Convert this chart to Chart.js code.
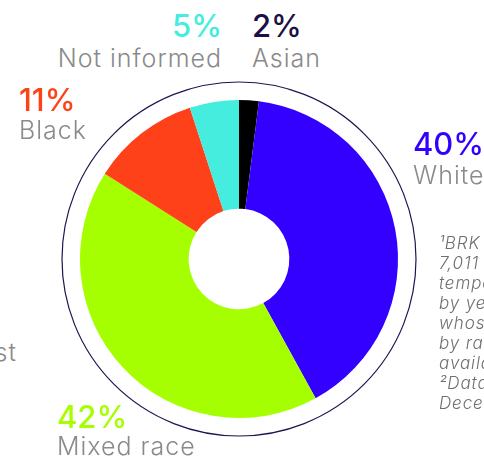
<!DOCTYPE html>
<html lang="en">
<head>
<meta charset="UTF-8">
<title>Race breakdown</title>
<script src="https://cdn.jsdelivr.net/npm/chart.js@4"></script>
<style>
    html, body { margin: 0; padding: 0; background: #fff; }
    body { width: 484px; height: 460px; overflow: hidden; position: relative; font-family: Inter, "Open Sans", sans-serif; }
    #wrap { position: absolute; left: 59px; top: 79px; width: 360px; height: 360px; }
    .pct, .name, .note { position: absolute; white-space: nowrap; line-height: 1; }
    .pct { font-size: 31px; font-weight: 500; letter-spacing: 0px; }
    .name { font-size: 25px; font-weight: 300; color: #8a8a8a; letter-spacing: 1px; }
    .right { text-align: right; }
    .note { left: 439px; font-size: 17px; font-style: italic; font-weight: 300; color: #6f6f6f; letter-spacing: 0.9px; }
</style>
</head>
<body>
<div id="wrap"><canvas id="grafico"></canvas></div>
<div id="labels"></div>

<script>
    // fatias em ordem horária a partir do topo
    const categorias = ['Asian', 'White', 'Mixed race', 'Black', 'Not informed'];
    const percentuais = [2, 40, 42, 11, 5];
    const cores = ['#000000', '#3300ff', '#a6ff00', '#ff4119', '#45eddf'];
    const coresTexto = ['#1c1048', '#3300ff', '#a6ff00', '#ff4119', '#45eddf'];

    const notas = ['\u00b9BRK Ambiental had', '7,011 employees and', 'temporary workers', 'by year-end 2022,', 'whose profile', 'by race is', 'available below.', '\u00b2Data as of', 'December 2022.'];

    // posição de cada rótulo: [x, linha de base do %, linha de base do nome, alinhado à direita?]
    const posicoes = [
        [252, 37, 68, false],
        [413, 155, 185, false],
        [57, 428, 456, false],
        [19, 111, 140, false],
        [222, 37, 68, true]
    ];

    const labels = document.getElementById('labels');
    categorias.forEach(function (cat, i) {
        const p = posicoes[i];
        const pct = document.createElement('div');
        pct.className = 'pct';
        pct.textContent = percentuais[i] + '%';
        pct.style.color = coresTexto[i];
        pct.style.top = (p[1] - 0.865 * 31) + 'px';
        const nome = document.createElement('div');
        nome.className = 'name';
        nome.textContent = cat;
        nome.style.top = (p[2] - 0.865 * 25) + 'px';
        [pct, nome].forEach(function (el) {
            if (p[3]) { el.style.right = (484 - p[0]) + 'px'; el.classList.add('right'); }
            else { el.style.left = p[0] + 'px'; }
            labels.appendChild(el);
        });
    });

    // sobra de texto da coluna ao lado
    const resto = document.createElement('div');
    resto.className = 'name';
    resto.textContent = 'Southeast';
    resto.style.right = '467px';
    resto.style.top = (362 - 0.865 * 25) + 'px';
    labels.appendChild(resto);

    notas.forEach(function (linha, i) {
        const el = document.createElement('div');
        el.className = 'note';
        el.textContent = linha;
        el.style.top = (250 + i * 20 - 0.865 * 17) + 'px';
        labels.appendChild(el);
    });

    // anel fino em volta do gráfico
    const anel = {
        id: 'anel',
        afterDraw(chart) {
            const arc = chart.getDatasetMeta(0).data[0];
            const ctx = chart.ctx;
            ctx.save();
            ctx.beginPath();
            ctx.arc(arc.x, arc.y, arc.outerRadius + 18, 0, Math.PI * 2);
            ctx.strokeStyle = '#1e1450';
            ctx.lineWidth = 1.2;
            ctx.stroke();
            ctx.restore();
        }
    };

    new Chart(document.getElementById('grafico'), {
        type: 'doughnut',
        data: {
            labels: categorias,
            datasets: [{
                data: percentuais,
                backgroundColor: cores,
                borderWidth: 0
            }]
        },
        options: {
            responsive: true,
            maintainAspectRatio: false,
            animation: false,
            radius: 159,
            cutout: 57,
            plugins: {
                legend: { display: false },
                tooltip: { enabled: false }
            }
        },
        plugins: [anel]
    });
</script>
</body>
</html>
